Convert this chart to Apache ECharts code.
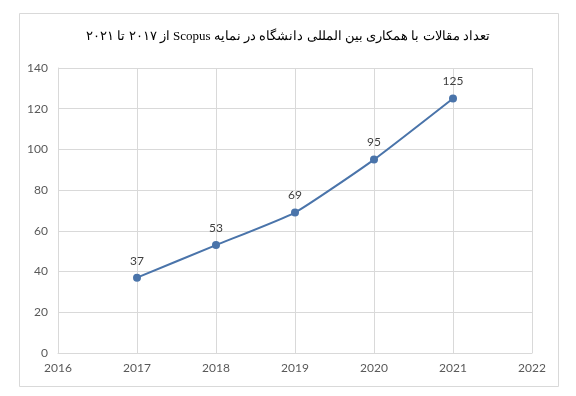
<!DOCTYPE html>
<html>
<head>
<meta charset="utf-8">
<script src="https://cdn.jsdelivr.net/npm/echarts@6/dist/echarts.min.js"></script>
<style>html,body{margin:0;padding:0;background:#fff}#c{width:576px;height:396px}</style>
</head>
<body>
<div id="c"></div>
<script>
const titleText = 'تعداد مقالات با همکاری بین المللی دانشگاه در نمایه Scopus از ۲۰۱۷ تا ۲۰۲۱';
const years = [2017, 2018, 2019, 2020, 2021];
const articles = [37, 53, 69, 95, 125];

const chart = echarts.init(document.getElementById('c'));
chart.setOption({
  animation: false,
  backgroundColor: '#fff',
  title: {
    text: '\u202B' + titleText + '\u202C',
    left: 'center',
    top: 25,
    textStyle: { fontFamily: '"Liberation Serif","DejaVu Serif",serif', fontSize: 13, fontWeight: 'normal', color: '#000' }
  },
  graphic: [{
    type: 'rect',
    shape: { x: 19.5, y: 13.5, width: 539, height: 373 },
    style: { fill: 'none', stroke: '#d9d9d9', lineWidth: 1 },
    silent: true
  }],
  grid: { left: 58, right: 44, top: 68, bottom: 43 },
  xAxis: {
    type: 'value', min: 2016, max: 2022, interval: 1,
    axisLine: { show: true, lineStyle: { color: '#d9d9d9' } },
    axisTick: { show: false },
    splitLine: { show: true, lineStyle: { color: '#d9d9d9' } },
    axisLabel: { color: '#595959', fontSize: 12, fontFamily: 'Lato, "Open Sans", sans-serif', margin: 9, formatter: v => String(v) }
  },
  yAxis: {
    type: 'value', min: 0, max: 140, interval: 20,
    axisLine: { show: true, lineStyle: { color: '#d9d9d9' } },
    axisTick: { show: false },
    splitLine: { show: true, lineStyle: { color: '#d9d9d9' } },
    axisLabel: { color: '#595959', fontSize: 12, fontFamily: 'Lato, "Open Sans", sans-serif', margin: 10 }
  },
  series: [{
    type: 'line',
    data: years.map((y, i) => [y, articles[i]]),
    smooth: 0.15,
    symbol: 'circle',
    symbolSize: 8,
    itemStyle: { color: '#4a74aa' },
    lineStyle: { color: '#4a74aa', width: 2 },
    label: { show: true, position: 'top', distance: 7, color: '#404040', fontSize: 12, fontFamily: 'Lato, "Open Sans", sans-serif' }
  }]
});
</script>
</body>
</html>
